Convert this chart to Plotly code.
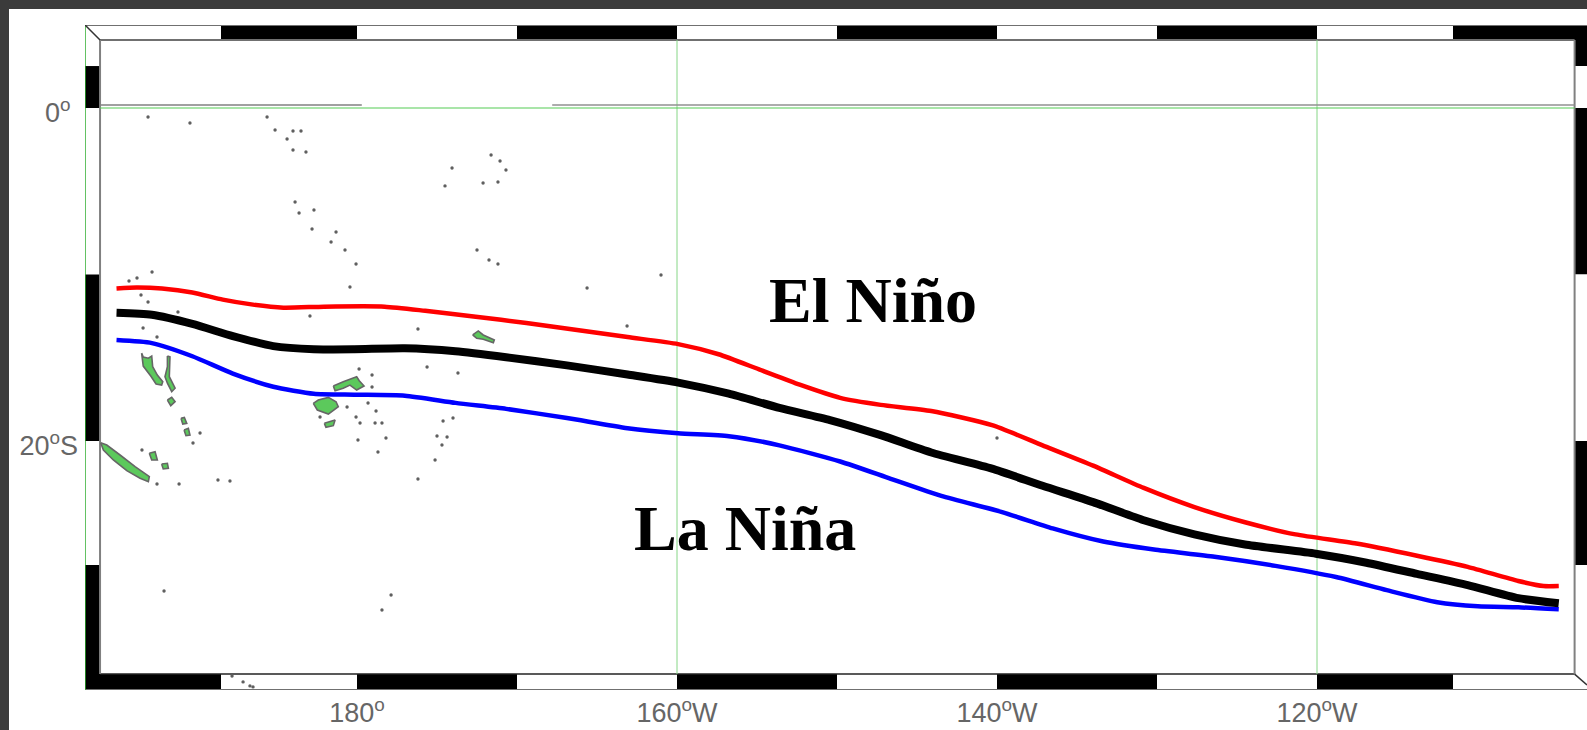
import plotly.graph_objects as go

# Track positions: longitude in degrees east (200 = 160W), latitude in degrees north
red_lon = [164.97,166.23,167.81,169.71,171.61,173.5,175.4,177.93,181.73,184.26,187.42,190.59,193.75,196.91,200.07,202.6,205.13,207.67,210.2,212.73,215.89,219.69,222.85,226.01,229.17,232.34,235.5,238.66,242.46,246.25,249.42,252.58,254.16,255.11]
red_lat = [-10.84,-10.78,-10.84,-11.08,-11.51,-11.81,-11.99,-11.93,-11.93,-12.18,-12.54,-12.91,-13.33,-13.76,-14.18,-14.79,-15.7,-16.62,-17.41,-17.83,-18.2,-19.05,-20.26,-21.48,-22.82,-23.97,-24.88,-25.61,-26.16,-26.89,-27.56,-28.41,-28.71,-28.71]
black_lon = [164.97,167.18,169.71,172.24,174.77,177.3,179.83,182.99,186.16,189.32,193.12,196.91,200.07,203.24,206.4,209.56,212.73,215.89,219.69,222.85,226.01,229.17,232.34,235.5,239.93,243.09,246.25,249.42,252.58,255.11]
black_lat = [-12.3,-12.42,-12.97,-13.7,-14.3,-14.49,-14.49,-14.43,-14.61,-14.97,-15.46,-16.01,-16.49,-17.16,-18.01,-18.74,-19.65,-20.69,-21.66,-22.69,-23.67,-24.76,-25.61,-26.22,-26.77,-27.31,-27.98,-28.65,-29.44,-29.75]
blue_lon = [164.97,167.18,169.71,172.24,174.77,177.3,179.83,182.99,186.16,189.32,193.12,196.91,200.07,203.24,206.4,210.2,213.36,216.52,220.32,223.48,226.64,229.81,233.6,237.4,241.19,244.36,247.52,250.05,252.58,255.11]
blue_lat = [-13.94,-14.12,-14.91,-15.95,-16.74,-17.16,-17.22,-17.28,-17.71,-18.07,-18.62,-19.23,-19.53,-19.71,-20.26,-21.23,-22.27,-23.3,-24.27,-25.25,-26.04,-26.52,-26.95,-27.5,-28.17,-28.96,-29.68,-29.93,-29.99,-30.11]

# Larger islands
new_caledonia = ([163.98,164.36,165.19,166.13,167.02,166.96,166.44,165.61,164.77,164.15], [-20.1,-20.24,-20.84,-21.54,-22.14,-22.44,-22.24,-21.78,-21.14,-20.54])
vanuatu = ([166.54,166.64,166.96,167.17,167.23,167.52,167.86,167.79,167.44,167.11,166.64], [-14.72,-14.96,-15.03,-14.9,-15.54,-16.04,-16.44,-16.64,-16.58,-16.1,-15.5])
espiritu = ([168.15,168.31,168.27,168.63,168.42,168.15,168,168.15], [-14.89,-14.94,-16.14,-16.83,-17.04,-16.53,-16.14,-15.54])
efate = ([168.15,168.42,168.63,168.36], [-17.54,-17.38,-17.64,-17.88])
tanna = ([169,169.21,169.36,169.11], [-18.64,-18.58,-18.94,-18.98])
erromango = ([169.19,169.46,169.56,169.31], [-19.34,-19.24,-19.64,-19.68])
lifou = ([167.02,167.38,167.52,167.17], [-20.74,-20.64,-21.14,-21.14])
mare = ([167.79,168.15,168.21,167.89], [-21.38,-21.34,-21.64,-21.68])
kadavu = ([177.96,178.63,178.52,178.06], [-18.94,-18.74,-19.08,-19.18])
viti_levu = ([177.27,177.58,178.21,178.69,178.83,178.21,177.52], [-17.74,-17.54,-17.38,-17.64,-17.94,-18.38,-18.14])
vanua_levu = ([178.52,179.14,179.98,180.14,180.44,179.98,179.56,179.14,178.63], [-16.7,-16.44,-16.14,-16.38,-16.7,-16.94,-16.64,-16.83,-16.98])
samoa = ([187.23,187.58,187.89,188.58,188.52,187.89,187.48], [-13.63,-13.39,-13.63,-13.93,-14.1,-13.89,-13.83])
islands = [new_caledonia, vanuatu, espiritu, efate, tanna, erromango, lifou, mare, kadavu, viti_levu, vanua_levu, samoa]

# Small islets
islet_lon = [166.94,169.56,174.38,174.88,175.63,176,176.5,176,176.81,176.13,176.38,177.31,177.19,178.69,178.38,179.25,179.94,188.38,188.94,189.31,185.94,185.5,187.88,188.81,187.5,188.25,188.81,167.19,166.25,165.75,166.5,166.94,168.81,166.63,167.5,177.06,179.56,183.81,184.38,186.31,180.13,180.94,180.94,186,185.38,185,185.63,185.31,184.88,183.81,181.31,181.81,180.06,181.13,181.56,180.19,179.94,179.38,177.69,181.19,180.69,169.75,170.19,166.56,167.5,168.88,171.31,172.06,167.94,182.13,181.56,172.19,172.88,173.31,173.5,199,194.38,196.88,220]
islet_lat = [-0.54,-0.9,-0.54,-1.32,-1.86,-1.38,-1.38,-2.52,-2.64,-5.65,-6.31,-6.13,-7.27,-7.45,-8.05,-8.53,-9.37,-2.82,-3.18,-3.72,-3.6,-4.68,-4.5,-4.44,-8.53,-9.13,-9.37,-9.85,-10.21,-10.39,-11.23,-11.65,-12.25,-13.21,-13.75,-12.49,-10.75,-13.27,-15.56,-15.92,-15.68,-16.04,-16.76,-18.62,-18.8,-19.7,-19.76,-20.24,-21.14,-22.28,-20.66,-19.82,-19.94,-18.92,-18.92,-18.92,-18.56,-17.96,-18.56,-18.2,-17.72,-20.12,-19.52,-20.54,-22.58,-22.58,-22.34,-22.4,-29.01,-29.25,-30.15,-34.11,-34.47,-34.71,-34.77,-10.03,-10.81,-13.09,-19.82]

# Map frame: alternating scale bar edges
lon_edges = [163,171.5,180,190,200,210,220,230,240,248.5,256.875]
lat_edges = [4.985,2.52,0,-10,-20,-27.45,-34.955]
lon_min, lon_max = 163, 256.875
lat_min, lat_max = -34.955, 4.985
in_w, in_e, in_n, in_s = 163.94, 256.1, 4.08, -34.0
x_ticks = [180,200,220,240]
x_labels = ["180<sup>o</sup>","160<sup>o</sup>W","140<sup>o</sup>W","120<sup>o</sup>W"]
y_ticks = [0,-20]
y_labels = ["0<sup>o</sup>&nbsp;","20<sup>o</sup>S"]
grid_lons = [200,240]
grid_color = "#86d686"
green = "#5cc95c"
edge = "#666666"

fig = go.Figure()
shapes = []
def rect(x0,x1,y0,y1,fill):
    shapes.append(dict(type="rect",xref="x",yref="y",x0=x0,x1=x1,y0=y0,y1=y1,fillcolor=fill,line=dict(width=0),layer="below"))
def seg(x0,y0,x1,y1,color,w):
    shapes.append(dict(type="line",xref="x",yref="y",x0=x0,x1=x1,y0=y0,y1=y1,line=dict(color=color,width=w),layer="below"))

# bands
for i in range(len(lon_edges)-1):
    a,b = lon_edges[i],lon_edges[i+1]
    rect(a,b,in_n,lat_max,"black" if i%2==1 else "white")
    rect(a,b,lat_min,in_s,"black" if i%2==0 else "white")
for i in range(len(lat_edges)-1):
    a,b = lat_edges[i],lat_edges[i+1]
    rect(lon_min,in_w,b,a,"black" if i%2==1 else "white")
    rect(in_e,lon_max,b,a,"black" if i%2==0 else "white")
# frame lines
seg(lon_min,lat_max,lon_max,lat_max,"#707070",2)
seg(lon_min,lat_min,lon_max,lat_min,"#707070",2)
seg(lon_min,lat_min,lon_min,lat_max,"#2fae2f",1.5)
seg(in_w,in_n,in_e,in_n,"#707070",2)
seg(in_w,in_s,in_e,in_s,"#222222",1.5)
seg(in_w,in_s,in_w,in_n,"#808080",2)
seg(in_e,in_s,in_e,in_n,"#808080",2)
seg(lon_min,lat_max,in_w,in_n,"#333333",1.5)
seg(in_e,in_s,lon_max,lat_min+0.3,"#333333",1.5)
# graticule
for g in grid_lons:
    seg(g,in_n,g,in_s,grid_color,1)
seg(in_w,0,in_e,0,"#55cc55",1.2)
seg(in_w,0.18,180.3,0.18,"#808080",1.5)
seg(192.2,0.18,in_e,0.18,"#909090",1.3)

# page surround (screenshot edge)
shapes.append(dict(type="rect",xref="paper",yref="paper",x0=-85/1502,x1=1,y0=1+16/665,y1=1+25/665,fillcolor="#3b3b3b",line=dict(width=0),layer="above"))
shapes.append(dict(type="rect",xref="paper",yref="paper",x0=-85/1502,x1=-76/1502,y0=-40/665,y1=1+25/665,fillcolor="#3b3b3b",line=dict(width=0),layer="above"))

for lon,lat in islands:
    fig.add_trace(go.Scatter(x=lon+lon[:1],y=lat+lat[:1],mode="lines",fill="toself",fillcolor=green,
                             line=dict(color=edge,width=1.6),hoverinfo="skip",showlegend=False))
fig.add_trace(go.Scatter(x=islet_lon,y=islet_lat,mode="markers",marker=dict(size=3.4,color="#5f5f5f",line=dict(width=0)),
                         hoverinfo="skip",showlegend=False))
fig.add_trace(go.Scatter(x=red_lon,y=red_lat,mode="lines",name="El Niño",line=dict(color="#ff0000",width=4.5,shape="spline",smoothing=0.6),showlegend=False))
fig.add_trace(go.Scatter(x=blue_lon,y=blue_lat,mode="lines",name="La Niña",line=dict(color="#0000ff",width=4.5,shape="spline",smoothing=0.6),showlegend=False))
fig.add_trace(go.Scatter(x=black_lon,y=black_lat,mode="lines",name="Mean",line=dict(color="#000000",width=8,shape="spline",smoothing=0.6),showlegend=False))

tf = dict(family="Liberation Sans, Arial, sans-serif",size=27,color="#666666")
ann_font = dict(family="Liberation Serif, Times New Roman, serif",size=64,color="black")
fig.update_layout(
    width=1587,height=730,margin=dict(l=85,r=0,t=25,b=40),autosize=False,
    paper_bgcolor="white",plot_bgcolor="white",shapes=shapes,
    xaxis=dict(range=[lon_min,lon_max],tickmode="array",tickvals=x_ticks,ticktext=x_labels,tickfont=tf,
               showgrid=False,zeroline=False,showline=False,ticks="",ticklabelstandoff=4),
    yaxis=dict(range=[lat_min,lat_max],tickmode="array",tickvals=y_ticks,ticktext=y_labels,tickfont=tf,
               showgrid=False,zeroline=False,showline=False,ticks="",ticklabelshift=5,ticklabelstandoff=6),
    annotations=[
        dict(x=212.25,y=-11.58,xref="x",yref="y",text="<b>El Niño</b>",showarrow=False,font=ann_font),
        dict(x=204.25,y=-25.23,xref="x",yref="y",text="<b>La Niña</b>",showarrow=False,font=ann_font),
    ],
)
fig.write_html("out.html",config=dict(displayModeBar=False),
               post_script="document.body.style.margin='0';document.body.style.overflow='hidden';")
